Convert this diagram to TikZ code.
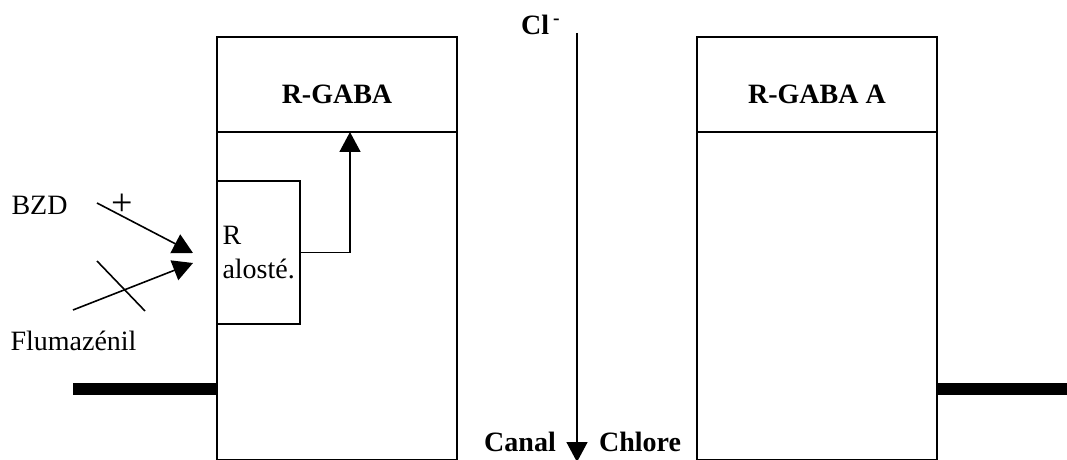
\documentclass[tikz,border=0pt]{standalone}
\usepackage{fontspec}
\setmainfont{Liberation Serif}
\usetikzlibrary{positioning,arrows.meta}
\begin{document}
\begin{tikzpicture}[x=0.5pt, y=-0.5pt, font=\fontsize{14}{17}\selectfont]
    % Styles
    \tikzstyle{headblock} = [rectangle, draw, line width=0.8pt, outer sep=0pt,
        minimum width=120pt, inner ysep=0pt, text height=33.5pt, text depth=14pt,
        font=\fontsize{14}{17}\selectfont\bfseries]
    \tikzstyle{bodyblock} = [rectangle, draw, line width=0.8pt, outer sep=0pt,
        minimum width=120pt, minimum height=164pt]
    \tikzstyle{siteblock} = [rectangle, draw, line width=0.8pt, outer sep=0pt,
        minimum height=71.5pt, text width=36pt, inner xsep=2.75pt, align=left]
    \tikzstyle{boldtext} = [font=\fontsize{14}{17}\selectfont\bfseries]
    \tikzstyle{arrow} = [line width=0.8pt, -{Triangle[length=10pt,width=10.5pt]}]
    \tikzstyle{membrane} = [line width=6pt]

    \useasboundingbox (0,0) rectangle (1067,460);

    % === RECEPTORS ===
    \node [headblock] (rgaba) at (337,84.5) {R-GABA};
    \node [bodyblock, below=0pt of rgaba] (rgababody) {};
    \node [headblock] (rgabaA) at (817,84.5) {R-GABA A};
    \node [bodyblock, below=0pt of rgabaA] (rgabaAbody) {};
    \node [siteblock, anchor=north west] (site) at (217,181) {R\\alosté.};

    % === LIGANDS ===
    \node (bzd) at (39.5,205) {BZD};
    \node [font=\fontsize{19}{20}\selectfont] (plus) at (122.5,205) {+};
    \node (flum) at (73.5,341) {Flumazénil};
    \coordinate (bzdtail) at (97,203);
    \coordinate (bzdtip) at (193,253);
    \coordinate (flumtail) at (73,310);
    \coordinate (flumtip) at (193,263);
    \coordinate (crossA) at (97,261);
    \coordinate (crossB) at (145,311);

    % === CHANNEL ===
    \node [boldtext] (cl) at (541,25) {Cl\textsuperscript{\kern2pt-}};
    \node [boldtext] (canal) at (520,442) {Canal};
    \node [boldtext] (chlore) at (640,442) {Chlore};
    \coordinate (chantop) at (577,33);
    \coordinate (chanbot) at (577,462);

    % === MEMBRANE ===
    \coordinate (memL) at (73,389);
    \coordinate (memR) at (1067,389);

    % === ARROWS ===
    \draw [arrow] (bzdtail) -- (bzdtip);
    \draw [arrow] (flumtail) -- (flumtip);
    \draw [line width=0.8pt] (crossA) -- (crossB);
    \draw [arrow] (site.east) -| ([xshift=6.5pt]rgaba.south);
    \draw [arrow] (chantop) -- (chanbot);
    \draw [membrane] (memL) -- (rgababody.west |- memL);
    \draw [membrane] (rgabaAbody.east |- memR) -- (memR);
\end{tikzpicture}
\end{document}
